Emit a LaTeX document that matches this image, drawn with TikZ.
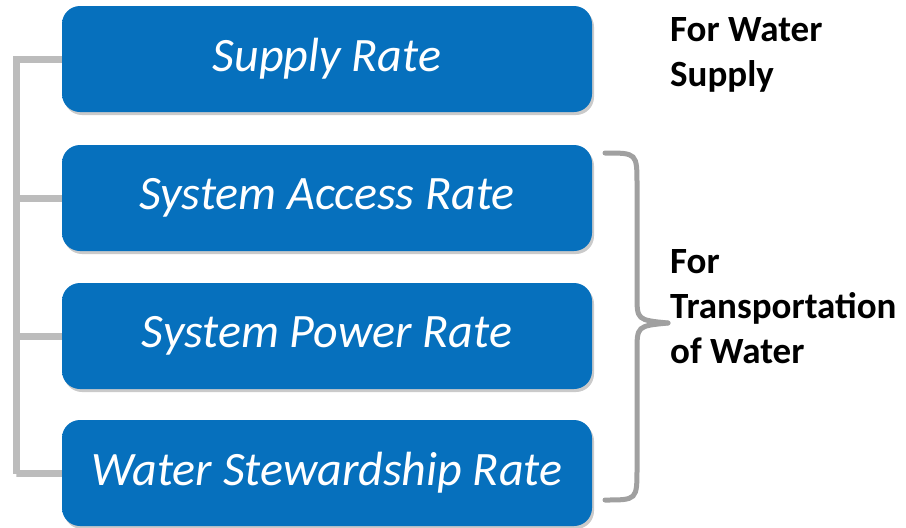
\documentclass[tikz,border=0pt]{standalone}
\usepackage{fontspec}
\setmainfont{Carlito}
\usetikzlibrary{shadows}
\definecolor{boxblue}{RGB}{6,112,189}
\definecolor{boxlight}{RGB}{80,172,232}
\definecolor{boxdark}{RGB}{12,78,138}
\definecolor{linkgray}{RGB}{188,188,188}
\definecolor{bracegray}{RGB}{160,160,160}
\pgfdeclareverticalshading{boxshade}{100bp}{color(0bp)=(boxdark); color(3bp)=(boxdark); color(7bp)=(boxblue); color(89bp)=(boxblue); color(95bp)=(boxlight); color(100bp)=(boxlight)}
\tikzset{
  ratebox/.style={rounded corners=18pt, shading=boxshade, draw=none,
    minimum width=530pt, minimum height=106pt, text=white,
    font=\fontsize{48}{54}\selectfont\itshape,
    drop shadow={shadow xshift=2pt, shadow yshift=-3pt, opacity=0.35, fill=black!60}},
  link/.style={draw=linkgray, line width=7pt},
  brace/.style={draw=bracegray, line width=5pt, line cap=round},
  sidelabel/.style={anchor=west, align=left, font=\fontsize{37}{45}\selectfont\bfseries, inner sep=0pt}
}
\begin{document}
\begin{tikzpicture}[x=1pt, y=-1pt]
\useasboundingbox (0,0) rectangle (906,528);
% rail of the tree connector
\coordinate (railtop) at (16,60);
\coordinate (railbot) at (16,474);
\draw[link] (railtop) -- (railbot);
% rate boxes
\node[ratebox] (b1) at (327,59) {Supply Rate};
\node[ratebox] (b2) at (327,198) {System Access Rate};
\node[ratebox] (b3) at (327,336) {System Power Rate};
\node[ratebox] (b4) at (327,473) {Water Stewardship Rate};
% branches from the rail to each box
\draw[link] (b1.west) -- (b1.west -| railtop) -- (railtop);
\draw[link] (b2.west) -- (b2.west -| railtop);
\draw[link] (b3.west) -- (b3.west -| railtop);
\draw[link] (b4.west) -- (b4.west -| railbot) -- (railbot);
% curly bracket around the transportation rates
\coordinate (brtop) at (605,153);
\coordinate (brtip) at (668,323);
\coordinate (brbot) at (605,500);
\draw[brace] (brtop) .. controls (637,153) .. (637,185) -- (637,295)
  .. controls (637,320) .. (brtip);
\draw[brace] (brtip) .. controls (637,326) .. (637,352) -- (637,468)
  .. controls (637,500) .. (brbot);
% side labels
\node[sidelabel] (l1) at (670,55) {For Water\\Supply};
\node[sidelabel] (l2) at (670,307) {For\\Transportation\\of Water};
\end{tikzpicture}
\end{document}
